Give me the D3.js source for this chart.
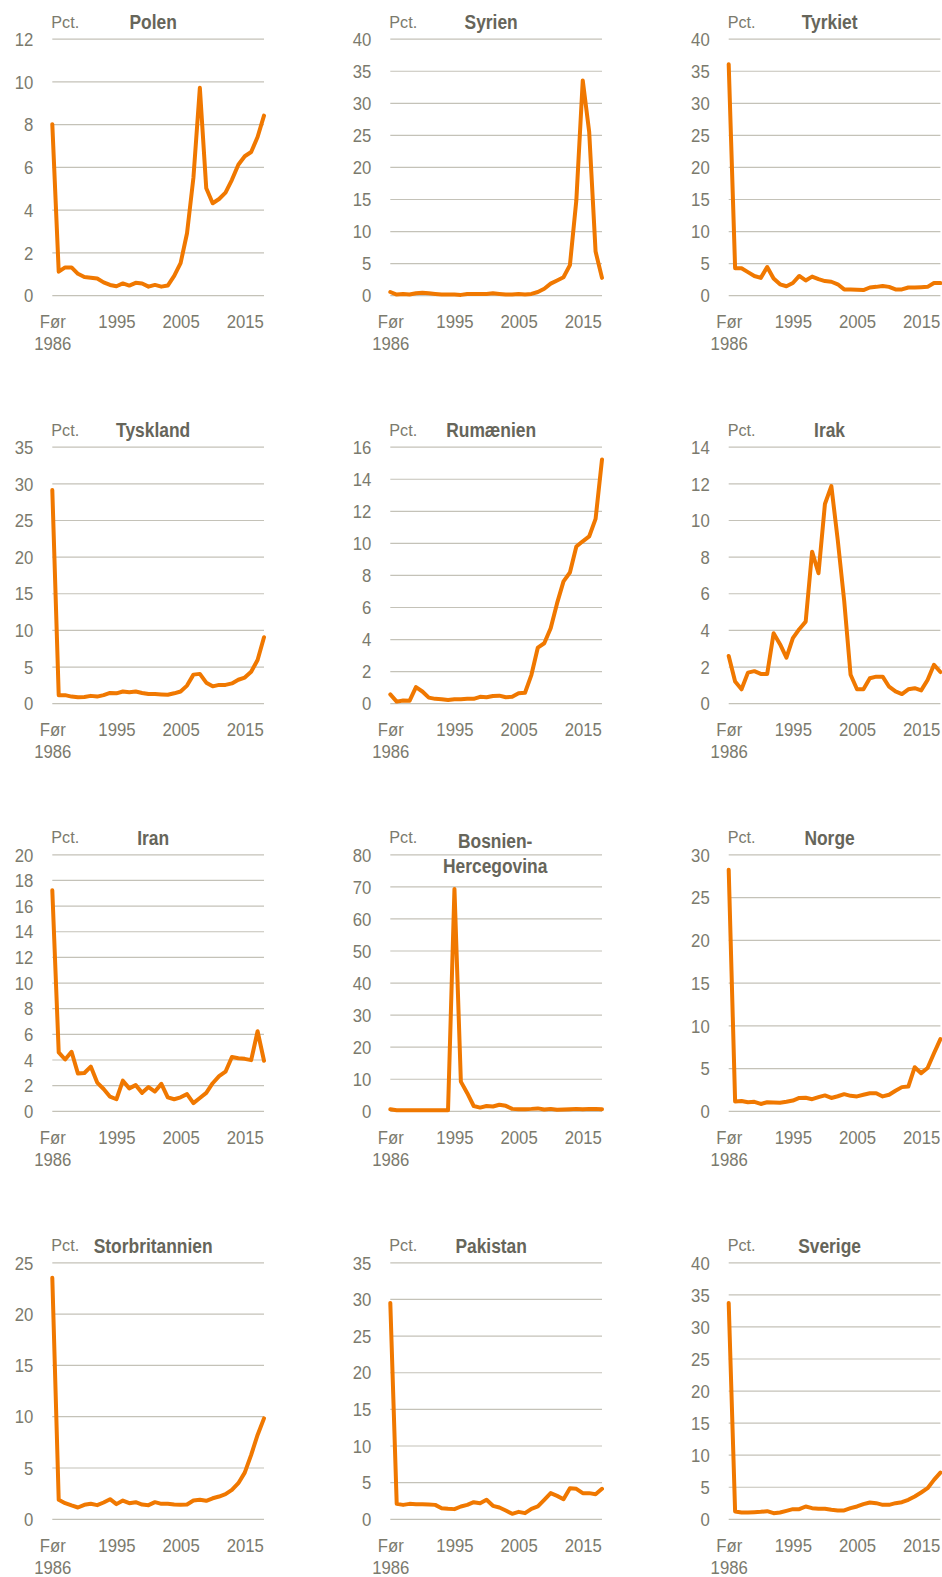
<!DOCTYPE html>
<html><head><meta charset="utf-8">
<script src="https://cdn.jsdelivr.net/npm/d3@7"></script>
<style>
html,body{margin:0;padding:0;background:#fff;}
svg{display:block;}
text{font-family:"Liberation Sans",Arial,sans-serif;}
</style>
</head><body>
<svg id="c" width="942" height="1577"></svg>
<script>
// Years: index 0 = "Før 1986", then 1986..2018
const years = d3.range(1985, 2019);
const xTicks = [1985, 1995, 2005, 2015];
const xTickLabels = ["Før", "1995", "2005", "2015"];

const countries = ["Polen","Syrien","Tyrkiet","Tyskland","Rumænien","Irak","Iran","Bosnien-Hercegovina","Norge","Storbritannien","Pakistan","Sverige"];
const yMax  = [12, 40, 40, 35, 16, 14, 20, 80, 30, 25, 35, 40];
const yStep = [2, 5, 5, 5, 2, 2, 2, 10, 5, 5, 5, 5];

const polen = [8.0,1.1,1.3,1.3,1.0,0.85,0.82,0.78,0.6,0.48,0.42,0.55,0.45,0.58,0.55,0.4,0.48,0.4,0.45,0.9,1.5,2.9,5.5,9.7,5.0,4.3,4.5,4.8,5.4,6.1,6.5,6.7,7.4,8.4];
const syrien = [0.5,0.1,0.2,0.1,0.3,0.4,0.3,0.2,0.1,0.1,0.1,0.05,0.2,0.2,0.2,0.2,0.3,0.2,0.1,0.1,0.2,0.1,0.2,0.5,1.0,1.8,2.3,2.8,4.7,14.8,33.5,25.5,6.8,2.7];
const tyrkiet = [36,4.2,4.2,3.6,3.0,2.7,4.4,2.6,1.7,1.4,1.9,3.0,2.3,2.9,2.5,2.2,2.1,1.7,0.9,0.9,0.85,0.8,1.2,1.3,1.45,1.3,0.9,0.9,1.2,1.2,1.25,1.3,1.9,1.9];
const tyskland = [29.1,1.1,1.1,0.9,0.8,0.85,1.0,0.9,1.1,1.4,1.35,1.6,1.5,1.6,1.4,1.25,1.25,1.2,1.15,1.35,1.6,2.4,3.9,4.0,2.8,2.3,2.5,2.5,2.7,3.2,3.5,4.3,5.9,9.0];
const rumaenien = [0.55,0.1,0.17,0.15,1.0,0.73,0.35,0.27,0.25,0.2,0.25,0.25,0.27,0.27,0.4,0.37,0.45,0.47,0.37,0.4,0.62,0.65,1.77,3.47,3.74,4.68,6.24,7.6,8.15,9.77,10.1,10.4,11.5,15.2];
const irak = [2.58,1.18,0.76,1.67,1.75,1.6,1.6,3.82,3.22,2.49,3.55,4.04,4.45,8.27,7.09,10.87,11.85,8.9,5.6,1.55,0.76,0.76,1.36,1.45,1.45,0.9,0.64,0.5,0.76,0.82,0.7,1.27,2.1,1.7];
const iran = [17.2,4.55,4.0,4.6,2.9,2.95,3.45,2.2,1.7,1.1,0.9,2.35,1.75,2.0,1.4,1.85,1.5,2.1,1.05,0.9,1.05,1.3,0.6,1.0,1.4,2.15,2.7,3.05,4.2,4.1,4.05,3.95,6.2,3.9];
const bosnien = [0.5,0.2,0.2,0.2,0.2,0.2,0.2,0.2,0.2,0.2,69.2,9.1,5.5,1.5,1.0,1.5,1.35,1.9,1.55,0.6,0.5,0.5,0.6,0.75,0.4,0.6,0.3,0.4,0.5,0.6,0.5,0.6,0.6,0.5];
const norge = [28.2,1.1,1.15,1.0,1.05,0.8,1.0,0.97,0.93,1.05,1.2,1.5,1.52,1.36,1.6,1.8,1.5,1.7,1.95,1.75,1.68,1.87,2.06,2.06,1.68,1.87,2.34,2.77,2.84,5.1,4.4,5.0,6.74,8.38];
const storbritannien = [23.5,1.85,1.52,1.3,1.1,1.36,1.46,1.33,1.59,1.91,1.43,1.78,1.52,1.62,1.39,1.33,1.62,1.46,1.46,1.39,1.36,1.39,1.78,1.85,1.75,2.0,2.17,2.4,2.82,3.47,4.5,6.23,8.17,9.79];
const pakistan = [29.46,2.04,1.9,2.04,2.0,2.0,1.95,1.9,1.45,1.36,1.32,1.68,1.9,2.27,2.13,2.59,1.77,1.54,1.13,0.68,0.95,0.77,1.36,1.68,2.59,3.5,3.13,2.68,4.18,4.09,3.5,3.5,3.36,4.09];
const sverige = [33.66,1.14,0.99,0.99,1.04,1.09,1.19,0.88,0.99,1.24,1.5,1.5,1.92,1.66,1.56,1.56,1.4,1.3,1.3,1.66,1.92,2.28,2.54,2.44,2.18,2.18,2.44,2.59,2.96,3.48,4.1,4.77,6.07,7.21];

const seriesList = [polen, syrien, tyrkiet, tyskland, rumaenien, irak, iran, bosnien, norge, storbritannien, pakistan, sverige];

// Layout
const colX = [52.3, 390.3, 728.7];
const rowY = [38.7, 446.7, 854.3, 1262.3];
const W = 211.7, H = 256.5;
const textCol = "#7b7a6d", titleCol = "#66655a", gridCol = "#c4c2b8", lineCol = "#f07800";

// horizontally condense text (mimics a narrow typeface)
function condense(sel, s) {
  sel.each(function () {
    const t = d3.select(this);
    const x = +t.attr("x") || 0, y = +t.attr("y") || 0;
    t.attr("x", null).attr("y", null)
     .attr("transform", `translate(${x},${y}) scale(${s},1)`);
  });
}

const svg = d3.select("#c");

countries.forEach((name, k) => {
  const col = k % 3, row = Math.floor(k / 3);
  const g = svg.append("g").attr("transform", `translate(${colX[col]},${rowY[row]})`);
  const x = d3.scaleLinear().domain([1985, 2018]).range([0, W]);
  const y = d3.scaleLinear().domain([0, yMax[k]]).range([H, 0]);

  // y axis with gridlines
  const ya = g.append("g").call(d3.axisLeft(y)
      .tickValues(d3.range(0, yMax[k] + yStep[k] / 2, yStep[k]))
      .tickSize(-W).tickPadding(19).tickFormat(d3.format("d")));
  ya.select(".domain").remove();
  ya.selectAll(".tick line").attr("stroke", gridCol).attr("stroke-width", 1.2);
  ya.selectAll(".tick text").attr("fill", textCol).style("font-size", "18.6px")
    .attr("dy", "0.36em");
  condense(ya.selectAll(".tick text"), 0.9);

  // x axis
  const xa = g.append("g").attr("transform", `translate(0,${H})`)
    .call(d3.axisBottom(x).tickValues(xTicks).tickSize(0).tickPadding(19.5)
      .tickFormat((d, i) => xTickLabels[i]));
  xa.select(".domain").remove();
  xa.selectAll(".tick").filter(d => d === 1985).append("text")
    .attr("y", 19.5).attr("dy", "1.9em").attr("text-anchor", "middle").text("1986");
  xa.selectAll(".tick text").attr("fill", textCol).style("font-size", "18.6px");
  condense(xa.selectAll(".tick text"), 0.9);

  // Pct label
  const p = g.append("text").attr("x", -1).attr("y", -11).attr("fill", textCol)
    .style("font-size", "16.7px").text("Pct.");
  condense(p, 0.97);

  // Title
  const lines = name === "Bosnien-Hercegovina" ? ["Bosnien-", "Hercegovina"] : [name];
  const cx = lines.length > 1 ? W / 2 - 1 : W / 2 - 5;
  const y0 = lines.length > 1 ? -6 : -9.4;
  lines.forEach((ln, j) => {
    const t = g.append("text").attr("x", cx).attr("y", y0 + j * 24.4)
      .attr("text-anchor", "middle").attr("fill", titleCol)
      .style("font-size", "20px").style("font-weight", "bold").text(ln);
    condense(t, 0.87);
  });

  // Line
  const line = d3.line().x((d, i) => x(years[i])).y(d => y(d));
  g.append("path").datum(seriesList[k]).attr("d", line)
    .attr("fill", "none").attr("stroke", lineCol).attr("stroke-width", 4)
    .attr("stroke-linejoin", "round").attr("stroke-linecap", "round");
});
</script>
</body></html>
